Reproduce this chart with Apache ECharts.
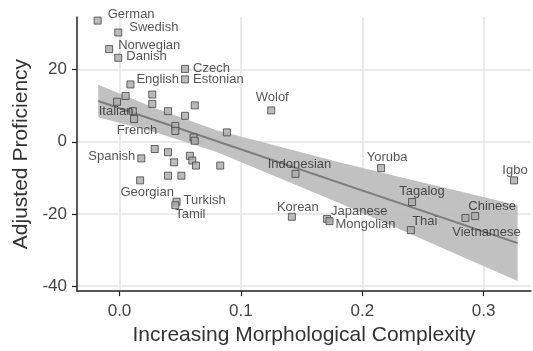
<!DOCTYPE html>
<html>
<head>
<meta charset="utf-8">
<script src="https://cdn.jsdelivr.net/npm/echarts@6/dist/echarts.min.js"></script>
<style>
  html, body { margin: 0; padding: 0; background: #fff; }
  #chart { width: 533px; height: 351px; }
</style>
</head>
<body>
<div id="chart"></div>
<script>
// labelled languages
const langNames = ['German', 'Swedish', 'Norwegian', 'Danish', 'English', 'Czech', 'Estonian',
  'Italian', 'French', 'Spanish', 'Georgian', 'Turkish', 'Tamil', 'Wolof', 'Indonesian',
  'Korean', 'Japanese', 'Mongolian', 'Yoruba', 'Igbo', 'Tagalog', 'Thai', 'Chinese', 'Vietnamese'];
const langX = [-0.018, -0.001, -0.0085, -0.001, 0.009, 0.054, 0.054,
  -0.002, 0.012, 0.018, 0.017, 0.047, 0.046, 0.125, 0.145,
  0.142, 0.171, 0.173, 0.2155, 0.325, 0.241, 0.240, 0.293, 0.285];
const langY = [33.6, 30.3, 25.7, 23.3, 15.9, 20.2, 17.3,
  11.1, 6.3, -4.6, -10.7, -16.6, -17.6, 8.7, -8.9,
  -20.8, -21.4, -22.0, -7.3, -10.7, -16.7, -24.5, -20.6, -21.1];

// unlabelled languages
const otherX = [0.005, 0.027, 0.027, 0.040, 0.062, 0.054, 0.011, 0.046, 0.046, 0.061, 0.062,
  0.0885, 0.029, 0.040, 0.045, 0.058, 0.060, 0.063, 0.083, 0.040, 0.051];
const otherY = [12.7, 13.1, 10.5, 8.5, 10.1, 7.2, 8.5, 4.4, 3.0, 1.2, 0.3,
  2.6, -2.0, -2.9, -5.7, -3.9, -5.2, -6.6, -6.6, -9.4, -9.4];

// fitted line and its confidence band
const fitX = [-0.0175, 0.328];
const fitY = [11.3, -28.1];
const bandX = [-0.0175, 0.03, 0.08, 0.13, 0.18, 0.23, 0.28, 0.328];
const bandLow = [6.8, 2.6, -2.8, -9.8, -16.8, -24.1, -31.5, -38.6];
const bandHigh = [15.8, 9.2, 3.2, -1.2, -5.6, -9.7, -13.7, -17.6];

const xTicks = [0, 0.1, 0.2, 0.3];
const yTicks = [-40, -20, 0, 20];

// where each name sits around its point
const placement = {
  German: ['right', [1, -6]], Swedish: ['right', [2, -5]], Norwegian: ['right', [0, -4]],
  Danish: ['right', [-1, -1]], English: ['right', [-3, -5]], Czech: ['right', [-1, -1]],
  Estonian: ['right', [-1, 0]], Italian: ['bottom', [-1, -6]], French: ['bottom', [3, -4]],
  Spanish: ['left', [3, -2]], Georgian: ['bottom', [7, -3]], Turkish: ['right', [-2, -1]],
  Tamil: ['bottom', [15, -6]], Wolof: ['top', [1, 3]], Indonesian: ['top', [4, 6]],
  Korean: ['top', [6, 6]], Japanese: ['right', [-5, -8]], Mongolian: ['right', [-3, 3]],
  Yoruba: ['top', [6, 5]], Igbo: ['top', [1, 6]], Tagalog: ['top', [10, 5]],
  Thai: ['top', [14, 7]], Chinese: ['top', [17, 6]], Vietnamese: ['bottom', [21, -1]]
};

const font = 'Liberation Sans, Arial, sans-serif';

const chart = echarts.init(document.getElementById('chart'));

const pointStyle = {
  color: '#aaaaaa',
  borderColor: '#444',
  borderWidth: 1
};

const option = {
  animation: false,
  backgroundColor: '#fff',
  grid: { left: 77, right: 2, top: 17, bottom: 58 },
  xAxis: {
    type: 'value',
    min: -0.035,
    max: 0.339,
    name: 'Increasing Morphological Complexity',
    nameLocation: 'middle',
    nameGap: 31,
    nameTextStyle: { fontFamily: font, fontSize: 21, color: '#333' },
    axisLine: { onZero: false, lineStyle: { color: '#222', width: 1.5 } },
    axisTick: { show: true, length: 5, customValues: xTicks, lineStyle: { color: '#222', width: 1.2 } },
    axisLabel: {
      customValues: xTicks,
      margin: 12,
      fontFamily: font, fontSize: 17, color: '#444',
      formatter: v => v.toFixed(1)
    },
    splitLine: { show: true, lineStyle: { color: '#e3e3e3', width: 1.5 } }
  },
  yAxis: {
    type: 'value',
    min: -41.4,
    max: 34.6,
    name: 'Adjusted Proficiency',
    nameLocation: 'middle',
    nameGap: 43,
    nameTextStyle: { fontFamily: font, fontSize: 21, color: '#333' },
    axisLine: { show: true, onZero: false, lineStyle: { color: '#222', width: 1.5 } },
    axisTick: { show: true, length: 5, customValues: yTicks, lineStyle: { color: '#222', width: 1.2 } },
    axisLabel: { customValues: yTicks, margin: 10, fontFamily: font, fontSize: 17, color: '#444' },
    splitLine: { show: true, lineStyle: { color: '#e3e3e3', width: 1.5 } }
  },
  series: [
    {
      type: 'custom',
      z: 1,
      data: bandX.map((x, i) => [x, bandLow[i], bandHigh[i]]),
      renderItem: (params, api) => {
        if (params.dataIndex !== 0) return;
        const top = bandX.map((x, i) => api.coord([x, bandHigh[i]]));
        const bottom = bandX.map((x, i) => api.coord([x, bandLow[i]])).reverse();
        return {
          type: 'polygon',
          shape: { points: top.concat(bottom) },
          style: { fill: '#bebebe', opacity: 0.95 }
        };
      }
    },
    {
      type: 'line',
      z: 2,
      symbol: 'none',
      data: fitX.map((x, i) => [x, fitY[i]]),
      lineStyle: { color: '#7c7c7c', width: 2 }
    },
    {
      type: 'scatter',
      z: 3,
      symbol: 'rect',
      symbolSize: 7,
      itemStyle: pointStyle,
      data: otherX.map((x, i) => [x, otherY[i]])
    },
    {
      type: 'scatter',
      z: 4,
      symbol: 'rect',
      symbolSize: 7,
      itemStyle: pointStyle,
      data: langNames.map((name, i) => ({
        name: name,
        value: [langX[i], langY[i]],
        label: {
          show: true,
          position: placement[name][0],
          offset: placement[name][1],
          formatter: '{b}',
          fontFamily: font,
          fontSize: 13,
          color: '#2a2a2a'
        }
      }))
    }
  ]
};

chart.setOption(option);
</script>
</body>
</html>
